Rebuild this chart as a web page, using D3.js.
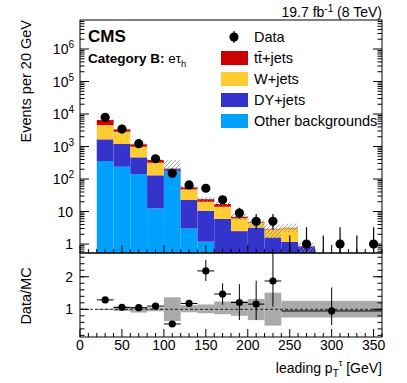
<!DOCTYPE html>
<html><head><meta charset="utf-8">
<script src="https://cdn.jsdelivr.net/npm/d3@7"></script>
<style>body{margin:0;background:#fff;} text{font-family:"Liberation Sans",Arial,Helvetica,sans-serif;fill:#000;}</style>
</head><body><svg id="c" width="407" height="383"></svg>
<script>
// ---------------- data ----------------
const binLow = [20,40,60,80,100,120,140,160,180,200,220,240,260,280,300,320,340];
const binWidth = 20;
const otherBkg = [358,239,142,12.5,176,3.0,1.18,0,0,0,0,0,0,0,0,0,0];
const dyJets   = [1308,955,323,117.5,27,19.6,9.4,5.9,2.5,3.2,1.6,1.17,0.85,0,0,0,0];
const wJets    = [2914,1663,523,188,4,25.4,9.4,8.1,3.7,1.3,1.23,1.87,0,0,0,0,0];
const ttJets   = [1960,493,179,66,6,7.5,4,3,0.7,0.2,0.1,0.1,0,0,0,0,0];
const dataCounts = [7900,3450,1220,420,150,66,52,23,9,5,5,0,1,0,1,0,1];
const dataErrLo  = [89,59,35,20,12,8,7,4.8,2.9,2.2,2.2,0,0.83,0,0.83,0,0.83];
const dataErrHi  = [89,59,35,20,12,8,7,4.8,4.1,3.4,3.4,1.84,2.3,1.84,2.3,1.84,2.3];
const mcUncLo = [0.97,0.95,0.90,0.94,0.64,0.90,0.88,0.85,0.80,0.70,0.50,0.75,0.5,0,0,0,0];
const mcUncHi = [1.03,1.05,1.06,1.06,1.80,1.12,1.15,1.20,1.25,1.22,1.36,1.35,1.3,0,0,0,0];

const ratioEdges = [20,40,60,80,100,120,140,160,180,200,220,240,360];
const ratioVals  = [1.29,1.06,1.05,1.10,0.55,1.18,2.18,1.47,1.21,1.16,1.87,0.95];
const ratioErrUp = [0.03,0.02,0.03,0.05,0.06,0.11,0.34,0.33,0.56,0.72,1.00,0.72];
const ratioErrDn = [0.03,0.02,0.03,0.05,0.06,0.11,0.31,0.33,0.54,0.49,0.79,0.43];
const bandLo = [0.98,0.95,0.90,0.94,0.64,0.91,0.88,0.85,0.80,0.67,0.50,0.75];
const bandHi = [1.02,1.08,1.06,1.06,1.37,1.13,1.15,1.24,1.26,1.32,1.51,1.26];

const legendLabels = ["Data","t\u0074\u0304+jets","W+jets","DY+jets","Other backgrounds"];
const xTicks = [0,50,100,150,200,250,300,350];
const yDecades = [1,10,100,1e3,1e4,1e5,1e6];
const ratioTicks = [1,2];
const colors = {other:"#00a0ff", dy:"#3434cc", w:"#ffcc33", tt:"#cc0000"};

// ---------------- layout ----------------
const svg = d3.select("#c");
const L = 80, R = 382, T = 20, M = 253, B = 337;
const x = d3.scaleLinear().domain([0,360]).range([L,R]);
const y = d3.scaleLog().domain([0.53,7.8e6]).range([M,T]);
const yr = d3.scaleLinear().domain([0.15,2.73]).range([B,M]);

const defs = svg.append("defs");
defs.append("clipPath").attr("id","cTop").append("rect").attr("x",L).attr("y",T).attr("width",R-L).attr("height",M-T);
defs.append("clipPath").attr("id","cBot").append("rect").attr("x",L).attr("y",M).attr("width",R-L).attr("height",B-M);
const pat = defs.append("pattern").attr("id","hatch").attr("patternUnits","userSpaceOnUse").attr("width",4).attr("height",4);
pat.append("path").attr("d","M-1,1 l2,-2 M0,4 l4,-4 M3,5 l2,-2").attr("stroke","#8a8a8a").attr("stroke-width",0.8);

// stack
const rows = binLow.map((b,i)=>({b, other:otherBkg[i], dy:dyJets[i], w:wJets[i], tt:ttJets[i]}));
const keys = ["other","dy","w","tt"];
const stack = d3.stack().keys(keys)(rows);
const gTop = svg.append("g").attr("clip-path","url(#cTop)");
const yc = v => v <= y.domain()[0] ? M+1 : y(v);
stack.forEach(layer=>{
  gTop.selectAll(null).data(layer.filter(d=>d[1]-d[0]>0)).enter().append("rect")
    .attr("x",d=>x(d.data.b)).attr("width",d=>x(d.data.b+binWidth)-x(d.data.b))
    .attr("y",d=>yc(d[1])).attr("height",d=>Math.max(0,yc(d[0])-yc(d[1])))
    .attr("fill",colors[layer.key]);
});
// uncertainty hatch
const totals = rows.map(r=>r.other+r.dy+r.w+r.tt);
gTop.selectAll(null).data(binLow.map((b,i)=>({b,t:totals[i],lo:mcUncLo[i],hi:mcUncHi[i]})).filter(d=>d.t>0))
  .enter().append("rect")
  .attr("x",d=>x(d.b)).attr("width",d=>x(d.b+binWidth)-x(d.b))
  .attr("y",d=>yc(d.t*d.hi)).attr("height",d=>Math.max(0,yc(d.t*d.lo)-yc(d.t*d.hi)))
  .attr("fill","url(#hatch)");
// data
const dpts = binLow.map((b,i)=>({c:b+binWidth/2,v:dataCounts[i],lo:dataErrLo[i],hi:dataErrHi[i]}));
gTop.selectAll(null).data(dpts).enter().append("line")
  .attr("x1",d=>x(d.c)).attr("x2",d=>x(d.c))
  .attr("y1",d=>yc(d.v-d.lo)).attr("y2",d=>yc(d.v+d.hi))
  .attr("stroke","#000").attr("stroke-width",1.2);
gTop.selectAll(null).data(dpts.filter(d=>d.v>0)).enter().append("circle")
  .attr("cx",d=>x(d.c)).attr("cy",d=>y(d.v)).attr("r",4.6).attr("fill","#000");

// ---------------- ratio ----------------
const gBot = svg.append("g").attr("clip-path","url(#cBot)");
const rb = ratioVals.map((v,i)=>({a:ratioEdges[i],b:ratioEdges[i+1],v,up:ratioErrUp[i],dn:ratioErrDn[i],lo:bandLo[i],hi:bandHi[i]}));
gBot.selectAll(null).data(rb).enter().append("rect")
  .attr("x",d=>x(d.a)).attr("width",d=>x(d.b)-x(d.a))
  .attr("y",d=>yr(d.hi)).attr("height",d=>yr(d.lo)-yr(d.hi)).attr("fill","#aaaaaa");
gBot.append("line").attr("x1",L).attr("x2",R).attr("y1",yr(1)).attr("y2",yr(1))
  .attr("stroke","#000").attr("stroke-width",0.8).attr("stroke-dasharray","3,2");
gBot.selectAll(null).data(rb).enter().append("line")
  .attr("x1",d=>x(d.a)).attr("x2",d=>x(d.b)).attr("y1",d=>yr(d.v)).attr("y2",d=>yr(d.v))
  .attr("stroke","#000").attr("stroke-width",1);
gBot.selectAll(null).data(rb).enter().append("line")
  .attr("x1",d=>x((d.a+d.b)/2)).attr("x2",d=>x((d.a+d.b)/2)).attr("y1",d=>yr(d.v-d.dn)).attr("y2",d=>yr(d.v+d.up))
  .attr("stroke","#000").attr("stroke-width",1);
gBot.selectAll(null).data(rb).enter().append("circle")
  .attr("cx",d=>x((d.a+d.b)/2)).attr("cy",d=>yr(d.v)).attr("r",3.6).attr("fill","#000");

// ---------------- frames & ticks ----------------
const fr = svg.append("g").attr("fill","none").attr("stroke","#000").attr("stroke-width",1);
fr.append("rect").attr("x",L).attr("y",T).attr("width",R-L).attr("height",M-T);
fr.append("rect").attr("x",L).attr("y",M).attr("width",R-L).attr("height",B-M);
const tk = svg.append("g").attr("stroke","#000").attr("stroke-width",1);
function hTick(yy,len){ tk.append("line").attr("x1",L).attr("x2",L+len).attr("y1",yy).attr("y2",yy);
  tk.append("line").attr("x1",R).attr("x2",R-len).attr("y1",yy).attr("y2",yy); }
function vTick(xx,yy,len){ tk.append("line").attr("x1",xx).attr("x2",xx).attr("y1",yy).attr("y2",yy-len); }
// log ticks
for(let e=-1;e<=6;e++){ for(let k=1;k<=9;k++){ const v=k*Math.pow(10,e);
  if(v<y.domain()[0]||v>y.domain()[1]) continue; hTick(y(v), k===1?9:4.5);} }
for(let v=0; v<=360; v+=10){ const big = v%50===0; vTick(x(v),M,big?8:4); vTick(x(v),B,big?8:4); }
for(let v=0.2; v<=2.7; v+=0.2){ hTick(yr(v),4.5); }
ratioTicks.forEach(v=>hTick(yr(v),9));

// ---------------- labels ----------------
const fs = 14;
yDecades.forEach(v=>{
  const e = Math.round(Math.log10(v));
  const t = svg.append("text").attr("text-anchor","end").attr("x",e>=2?74:73).attr("y",y(v)+5).attr("font-size",fs);
  if(e===0) t.text("1"); else if(e===1) t.text("10");
  else { t.append("tspan").text("10"); t.append("tspan").attr("dy",-6).attr("font-size",10).text(e); }
});
ratioTicks.forEach(v=>svg.append("text").attr("text-anchor","end").attr("x",73).attr("y",yr(v)+5).attr("font-size",fs).text(v));
xTicks.forEach(v=>svg.append("text").attr("text-anchor","middle").attr("x",x(v)).attr("y",350).attr("font-size",fs).text(v));

// axis titles
const xt = svg.append("text").attr("text-anchor","end").attr("x",382).attr("y",373).attr("font-size",fs);
xt.append("tspan").text("leading p");
xt.append("tspan").attr("dy",4).attr("font-size",10).text("T");
xt.append("tspan").attr("dx",0).attr("dy",-11).attr("font-size",9).text("\u03c4");
xt.append("tspan").attr("dy",7).text(" [GeV]");
svg.append("text").attr("transform","translate(31,20) rotate(-90)").attr("text-anchor","end").attr("font-size",14.5).text("Events per 20 GeV");
svg.append("text").attr("transform","translate(31,296) rotate(-90)").attr("text-anchor","middle").attr("font-size",14.5).text("Data/MC");

// top texts
const lumi = svg.append("text").attr("text-anchor","end").attr("x",382).attr("y",17).attr("font-size",14);
lumi.append("tspan").text("19.7 fb");
lumi.append("tspan").attr("dy",-5).attr("font-size",10).text("-1");
lumi.append("tspan").attr("dy",5).text(" (8 TeV)");
svg.append("text").attr("x",88).attr("y",42).attr("font-size",17).attr("font-weight","bold").text("CMS");
const cat = svg.append("text").attr("x",88).attr("y",63).attr("font-size",13.5);
cat.append("tspan").attr("font-weight","bold").text("Category B: ");
cat.append("tspan").text("e\u03c4");
cat.append("tspan").attr("dy",4).attr("font-size",9.5).text("h");

// legend
const legY = [37,58,79,100,121];
const legCols = [null,colors.tt,colors.w,colors.dy,colors.other];
legendLabels.forEach((lab,i)=>{
  if(i===0){
    svg.append("line").attr("x1",234).attr("x2",234).attr("y1",legY[i]-6).attr("y2",legY[i]+6).attr("stroke","#000").attr("stroke-width",1.2);
    svg.append("circle").attr("cx",234).attr("cy",legY[i]).attr("r",4.6).attr("fill","#000");
  } else {
    svg.append("rect").attr("x",221).attr("y",legY[i]-7).attr("width",27).attr("height",14).attr("fill",legCols[i]);
  }
  svg.append("text").attr("x",254).attr("y",legY[i]+5).attr("font-size",14.5).text(lab);
});
</script></body></html>
